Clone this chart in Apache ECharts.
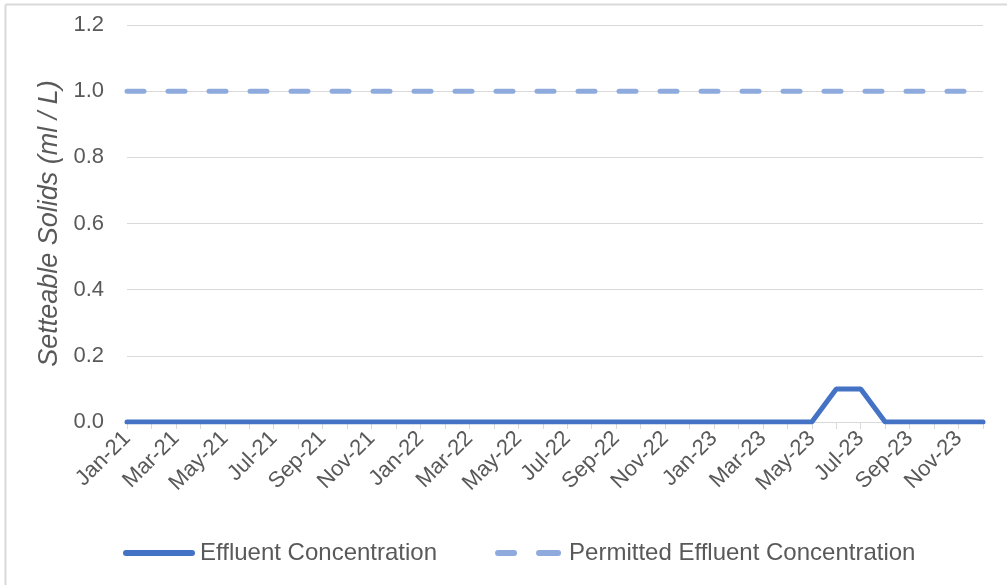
<!DOCTYPE html>
<html>
<head>
<meta charset="utf-8">
<script src="https://cdn.jsdelivr.net/npm/echarts@6/dist/echarts.min.js"></script>
<style>
  html, body { margin: 0; padding: 0; background: #fff; }
  #main { width: 1007px; height: 585px; }
</style>
</head>
<body>
<div id="main"></div>
<script>
// month labels, Jan-21 .. Dec-23
var months = [
  'Jan-21', 'Feb-21', 'Mar-21', 'Apr-21', 'May-21', 'Jun-21', 'Jul-21', 'Aug-21', 'Sep-21', 'Oct-21', 'Nov-21', 'Dec-21',
  'Jan-22', 'Feb-22', 'Mar-22', 'Apr-22', 'May-22', 'Jun-22', 'Jul-22', 'Aug-22', 'Sep-22', 'Oct-22', 'Nov-22', 'Dec-22',
  'Jan-23', 'Feb-23', 'Mar-23', 'Apr-23', 'May-23', 'Jun-23', 'Jul-23', 'Aug-23', 'Sep-23', 'Oct-23', 'Nov-23', 'Dec-23'
];
// measured effluent (ml / L)
var effluent = [
  0, 0, 0, 0, 0, 0, 0, 0, 0, 0, 0, 0,
  0, 0, 0, 0, 0, 0, 0, 0, 0, 0, 0, 0,
  0, 0, 0, 0, 0, 0.1, 0.1, 0, 0, 0, 0, 0
];
// permit limit
var permitted = [
  1, 1, 1, 1, 1, 1, 1, 1, 1, 1, 1, 1,
  1, 1, 1, 1, 1, 1, 1, 1, 1, 1, 1, 1,
  1, 1, 1, 1, 1, 1, 1, 1, 1, 1, 1, 1
];
var yTicks = { min: 0, max: 1.2, step: 0.2 };

var chart = echarts.init(document.getElementById('main'), null, { renderer: 'canvas' });
var txt = '#595959';
var font = 'Liberation Sans, Arial, sans-serif';

// legend icons drawn as paths (solid bar / two dashes)
var solidIcon = 'path://M3,0 H69 A3,3 0 0 1 69,6 H3 A3,3 0 0 1 3,0 Z';
var dashIcon = 'path://M3,0 H19 A3,3 0 0 1 19,6 H3 A3,3 0 0 1 3,0 Z M44,0 H63 A3,3 0 0 1 63,6 H44 A3,3 0 0 1 44,0 Z';

var option = {
  backgroundColor: '#fff',
  animation: false,
  textStyle: { fontFamily: font },
  grid: { left: 127, right: 24, top: 25, bottom: 163, containLabel: false },
  legend: {
    left: 118,
    top: 536,
    itemWidth: 72,
    itemHeight: 6,
    itemGap: 58,
    textStyle: { color: txt, fontSize: 24, fontFamily: font },
    data: [
      { name: 'Effluent Concentration', icon: solidIcon },
      { name: 'Permitted Effluent Concentration', icon: dashIcon }
    ]
  },
  xAxis: {
    type: 'category',
    boundaryGap: false,
    data: months,
    axisLine: { lineStyle: { color: '#d9d9d9', width: 1 } },
    axisTick: { show: true, interval: 0, length: 7, lineStyle: { color: '#d9d9d9' } },
    axisLabel: { interval: 1, rotate: 45, color: txt, fontSize: 22, margin: 13 },
    splitLine: { show: false }
  },
  yAxis: {
    type: 'value',
    min: yTicks.min,
    max: yTicks.max,
    interval: yTicks.step,
    name: 'Setteable Solids (ml / L)',
    nameLocation: 'middle',
    nameGap: 64,
    nameTextStyle: { color: txt, fontSize: 27, fontStyle: 'italic', fontFamily: font },
    axisLine: { show: false },
    axisTick: { show: false },
    axisLabel: {
      color: txt, fontSize: 22, margin: 23,
      formatter: function (v) { return v.toFixed(1); }
    },
    splitLine: { lineStyle: { color: '#d9d9d9', width: 1 } }
  },
  series: [
    {
      name: 'Effluent Concentration',
      type: 'line',
      data: effluent,
      symbol: 'none',
      z: 3,
      lineStyle: { color: '#4472c4', width: 5, cap: 'round' },
      itemStyle: { color: '#4472c4' }
    },
    {
      name: 'Permitted Effluent Concentration',
      type: 'line',
      data: permitted,
      symbol: 'none',
      z: 2,
      lineStyle: { color: '#8faadc', width: 5, type: [17, 24], cap: 'round' },
      itemStyle: { color: '#8faadc' }
    }
  ],
  graphic: [
    { type: 'line', shape: { x1: 5.5, y1: 4.5, x2: 1007, y2: 4.5 }, style: { stroke: '#d9d9d9', lineWidth: 2 } },
    { type: 'line', shape: { x1: 5.5, y1: 4.5, x2: 5.5, y2: 585 }, style: { stroke: '#d9d9d9', lineWidth: 2 } }
  ]
};
chart.setOption(option);
</script>
</body>
</html>
